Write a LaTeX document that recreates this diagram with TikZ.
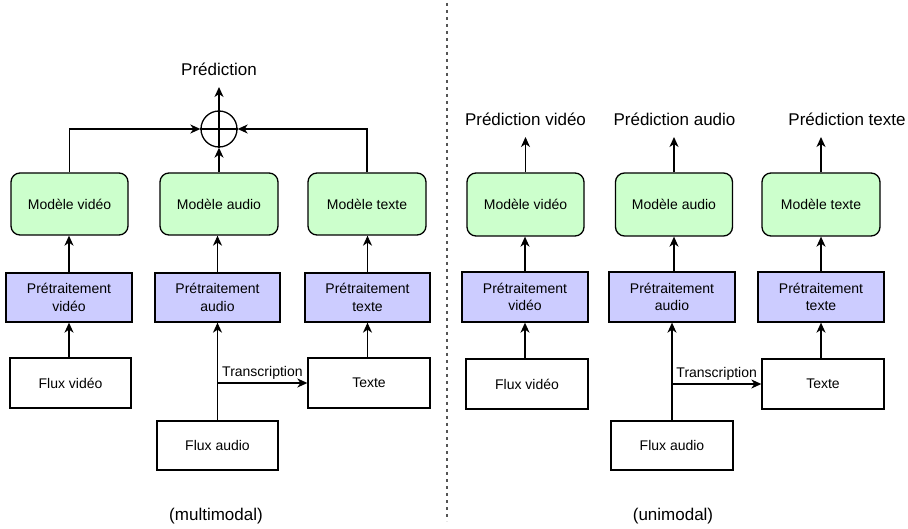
\documentclass[tikz,border=0pt]{standalone}
\usepackage{fontspec}
\setmainfont{Liberation Sans}
\usetikzlibrary{arrows.meta}
\definecolor{mgreen}{HTML}{CCFFCC}
\definecolor{ppurple}{HTML}{CCCCFF}
\definecolor{sepgray}{HTML}{555555}
\newcommand\bodyfont{\fontsize{14}{17.5}\selectfont}
\newcommand\bigfont{\fontsize{17}{20}\selectfont}
\tikzset{
  x=1pt, y=-1pt,
  model/.style={draw, line width=1.3pt, rounded corners=9pt, fill=mgreen, minimum width=117pt, minimum height=62pt, font=\bodyfont, inner sep=0pt},
  prep/.style={draw, line width=1.3pt, fill=ppurple, minimum width=126pt, minimum height=49pt, font=\bodyfont, align=center, inner sep=0pt},
  src/.style={draw, line width=1.3pt, fill=white, minimum width=121pt, minimum height=50pt, font=\bodyfont, inner sep=0pt},
  pred/.style={font=\bigfont, anchor=south, inner xsep=0pt, inner ysep=11pt},
  capt/.style={font=\bigfont, inner sep=0pt},
  arr/.style={-{Stealth[length=10pt,width=9pt,inset=3pt]}, line width=1.3pt},
}
\begin{document}
\begin{tikzpicture}
\useasboundingbox (0,0) rectangle (908,529);
% ---------------- left: multimodal ----------------
\node[model] (mv1) at (69.5,204) {Modèle vidéo};
\node[model, minimum width=118pt] (ma1) at (219,204) {Modèle audio};
\node[model, minimum width=118pt] (mt1) at (367,204) {Modèle texte};
\node[prep] (pv1) at (69,297.5) {Prétraitement\\vidéo};
\node[prep, minimum width=125pt] (pa1) at (217.5,297.5) {Prétraitement\\audio};
\node[prep, minimum width=125pt] (pt1) at (367.5,297.5) {Prétraitement\\texte};
\node[src] (fv1) at (70.5,383) {Flux vidéo};
\node[src, minimum width=122pt] (tx1) at (369,383) {Texte};
\node[src, minimum height=49pt] (fa1) at (217.5,445.5) {Flux audio};
\node[circle, draw, line width=1.3pt, minimum size=36pt, inner sep=0pt] (sum) at (219,129) {};
\draw[line width=1.3pt] (sum.north) -- (sum.south) (sum.west) -- (sum.east);
\node[pred] (p1) at (219,87) {Prédiction};
\draw[arr] (sum.north) -- (p1.south);
\draw[arr] (mv1.north) |- (sum.west);
\draw[arr] (mt1.north) |- (sum.east);
\draw[arr] (ma1.north) -- (sum.south);
\draw[arr] (pv1.north) -- (mv1.south -| pv1.north);
\draw[arr] (pa1.north) -- (ma1.south -| pa1.north);
\draw[arr] (pt1.north) -- (mt1.south -| pt1.north);
\draw[arr] (fv1.north -| pv1.south) -- (pv1.south);
\draw[arr] (tx1.north -| pt1.south) -- (pt1.south);
\draw[arr] (fa1.north) -- (pa1.south);
\draw[arr] (fa1.north |- tx1.west) -- (tx1.west)
  node[midway, above, font=\bodyfont, inner sep=2.5pt] {Transcription};
\node[capt] (c1) at (216,516) {(multimodal)};
% ---------------- separator ----------------
\draw[sepgray, line width=1.5pt, dash pattern=on 3pt off 4pt] (447,3) -- (447,521);
% ---------------- right: unimodal ----------------
\node[model, minimum height=63pt] (mv2) at (525.5,204.5) {Modèle vidéo};
\node[model, minimum height=63pt] (ma2) at (674,204.5) {Modèle audio};
\node[model, minimum height=63pt, minimum width=118pt] (mt2) at (821,204.5) {Modèle texte};
\node[prep, minimum height=50pt] (pv2) at (525,297) {Prétraitement\\vidéo};
\node[prep, minimum height=50pt] (pa2) at (672,297) {Prétraitement\\audio};
\node[prep, minimum height=50pt] (pt2) at (821,297) {Prétraitement\\texte};
\node[src, minimum width=122pt] (fv2) at (527,384) {Flux vidéo};
\node[src, minimum width=122pt] (tx2) at (823,384) {Texte};
\node[src, minimum width=122pt, minimum height=49pt] (fa2) at (672,445.5) {Flux audio};
\node[pred] (p2) at (525.5,137) {Prédiction vidéo};
\node[pred] (p3) at (674.5,137) {Prédiction audio};
\node[pred] (p4) at (847,137) {Prédiction texte};
\draw[arr] (mv2.north) -- (p2.south);
\draw[arr] (ma2.north) -- (ma2.north |- p3.south);
\draw[arr] (mt2.north) -- (mt2.north |- p4.south);
\draw[arr] (pv2.north) -- (mv2.south -| pv2.north);
\draw[arr] (pa2.north -| ma2.south) -- (ma2.south);
\draw[arr] (pt2.north) -- (mt2.south -| pt2.north);
\draw[arr] (fv2.north -| pv2.south) -- (pv2.south);
\draw[arr] (tx2.north -| pt2.south) -- (pt2.south);
\draw[arr] (fa2.north) -- (pa2.south);
\draw[arr] (fa2.north |- tx2.west) -- (tx2.west)
  node[midway, above, font=\bodyfont, inner sep=2.5pt] {Transcription};
\node[capt] (c2) at (673,516) {(unimodal)};
\end{tikzpicture}
\end{document}
